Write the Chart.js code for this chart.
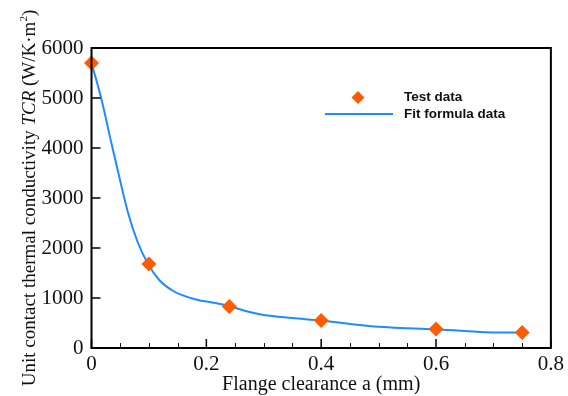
<!DOCTYPE html>
<html>
<head>
<meta charset="utf-8">
<script src="https://cdn.jsdelivr.net/npm/chart.js@4.4.0/dist/chart.umd.min.js"></script>
<style>
    body { margin: 0; background: #fff; }
    #wrap { width: 568px; height: 396px; }
</style>
</head>
<body>
<div id="wrap"><canvas id="tcrChart" width="568" height="396"></canvas></div>
<script>
// measured contact conductance vs. flange clearance
const testX = [0, 0.1, 0.24, 0.4, 0.6, 0.75];
const testY = [5700, 1680, 830, 550, 380, 310];

// fitted curve
const fitX = [0, 0.017, 0.034, 0.049, 0.063, 0.08, 0.098, 0.118, 0.144, 0.184, 0.21, 0.24, 0.27, 0.3, 0.35, 0.4, 0.45, 0.5, 0.55, 0.6, 0.65, 0.7, 0.74, 0.75];
const fitY = [5700, 4990, 4130, 3390, 2730, 2130, 1690, 1360, 1130, 965, 910, 840, 735, 660, 600, 548, 482, 425, 395, 372, 340, 310, 308, 313];

const xTicks = [0, 0.2, 0.4, 0.6, 0.8];
const yTicks = [0, 1000, 2000, 3000, 4000, 5000, 6000];

const ORANGE = '#ff5a05';
const BLUE = '#1e8cff';
const SERIF = '"Liberation Serif", "Times New Roman", serif';

// frame, inward ticks, axis titles and legend
const decorations = {
    id: 'decorations',
    afterDatasetsDraw(chart) {
        const { ctx, chartArea: a, scales: { x, y } } = chart;
        ctx.save();
        ctx.strokeStyle = '#111';

        // minor x ticks every 0.05
        ctx.lineWidth = 1;
        for (let i = 0; i <= 16; i++) {
            if (i % 4 === 0) continue;
            const px = Math.round(x.getPixelForValue(i * 0.05)) + 0.5;
            ctx.beginPath();
            ctx.moveTo(px, a.bottom);
            ctx.lineTo(px, a.bottom - 5);
            ctx.stroke();
        }
        ctx.lineWidth = 1.6;
        xTicks.forEach(v => {
            const px = x.getPixelForValue(v);
            ctx.beginPath();
            ctx.moveTo(px, a.bottom);
            ctx.lineTo(px, a.bottom - 9);
            ctx.stroke();
        });
        yTicks.forEach(v => {
            const py = y.getPixelForValue(v);
            ctx.beginPath();
            ctx.moveTo(a.left, py);
            ctx.lineTo(a.left + 9, py);
            ctx.stroke();
        });

        ctx.lineWidth = 2;
        ctx.strokeStyle = '#000';
        ctx.strokeRect(a.left, a.top, a.right - a.left, a.bottom - a.top);

        // x title
        ctx.fillStyle = '#111';
        ctx.font = '20px ' + SERIF;
        ctx.textAlign = 'center';
        ctx.textBaseline = 'alphabetic';
        ctx.fillText('Flange clearance a (mm)', (a.left + a.right) / 2, 390);

        // y title, rotated, with italic symbol and superscript
        const parts = [
            { t: 'Unit contact thermal conductivity ', f: '19px ' + SERIF, dy: 0 },
            { t: 'TCR', f: 'italic 19px ' + SERIF, dy: 0 },
            { t: ' (W/K\u00b7m', f: '19px ' + SERIF, dy: 0 },
            { t: '2', f: '11px ' + SERIF, dy: -8 },
            { t: ')', f: '19px ' + SERIF, dy: 0 }
        ];
        let total = 0;
        parts.forEach(p => { ctx.font = p.f; p.w = ctx.measureText(p.t).width; total += p.w; });
        ctx.translate(35, 198);
        ctx.rotate(-Math.PI / 2);
        ctx.textAlign = 'left';
        let cx = -total / 2;
        parts.forEach(p => {
            ctx.font = p.f;
            ctx.fillText(p.t, cx, p.dy);
            cx += p.w;
        });
        ctx.setTransform(1, 0, 0, 1, 0, 0);

        // legend
        const lx = 358, ly1 = 97.5, ly2 = 114;
        ctx.fillStyle = ORANGE;
        ctx.beginPath();
        ctx.moveTo(lx, ly1 - 6.5);
        ctx.lineTo(lx + 6.5, ly1);
        ctx.lineTo(lx, ly1 + 6.5);
        ctx.lineTo(lx - 6.5, ly1);
        ctx.closePath();
        ctx.fill();
        ctx.strokeStyle = BLUE;
        ctx.lineWidth = 2;
        ctx.beginPath();
        ctx.moveTo(325, ly2);
        ctx.lineTo(393, ly2);
        ctx.stroke();
        ctx.fillStyle = '#111';
        ctx.font = 'bold 13.5px "Liberation Sans", Arial, sans-serif';
        ctx.textAlign = 'left';
        ctx.textBaseline = 'middle';
        ctx.fillText('Test data', 404, ly1);
        ctx.fillText('Fit formula data', 404, ly2);
        ctx.restore();
    }
};

new Chart(document.getElementById('tcrChart'), {
    type: 'scatter',
    data: {
        datasets: [
            {
                label: 'Test data',
                data: testX.map((v, i) => ({ x: v, y: testY[i] })),
                pointStyle: 'rectRot',
                pointRadius: 7.5,
                backgroundColor: ORANGE,
                borderColor: ORANGE,
                borderWidth: 0,
                clip: false,
                order: 0
            },
            {
                type: 'line',
                label: 'Fit formula data',
                data: fitX.map((v, i) => ({ x: v, y: fitY[i] })),
                borderColor: BLUE,
                borderWidth: 2,
                pointRadius: 0,
                cubicInterpolationMode: 'monotone',
                fill: false,
                order: 1
            }
        ]
    },
    options: {
        responsive: false,
        animation: false,
        events: [],
        layout: { padding: { left: 0, top: 48, right: 14.5, bottom: 0 } },
        plugins: {
            legend: { display: false },
            tooltip: { enabled: false }
        },
        scales: {
            x: {
                type: 'linear',
                min: 0,
                max: 0.8,
                grid: { display: false, drawTicks: false },
                border: { display: false },
                afterBuildTicks: s => { s.ticks = xTicks.map(v => ({ value: v })); },
                afterFit: s => { s.height = 48; },
                ticks: {
                    padding: 4,
                    color: '#111',
                    maxRotation: 0,
                    font: { family: SERIF, size: 21 },
                    callback: v => String(v)
                }
            },
            y: {
                min: 0,
                max: 6000,
                grid: { display: false, drawTicks: false },
                border: { display: false },
                afterBuildTicks: s => { s.ticks = yTicks.map(v => ({ value: v })); },
                afterFit: s => { s.width = 91.5; },
                ticks: {
                    padding: 8,
                    color: '#111',
                    font: { family: SERIF, size: 21 },
                    callback: v => String(v)
                }
            }
        }
    },
    plugins: [decorations]
});
</script>
</body>
</html>
